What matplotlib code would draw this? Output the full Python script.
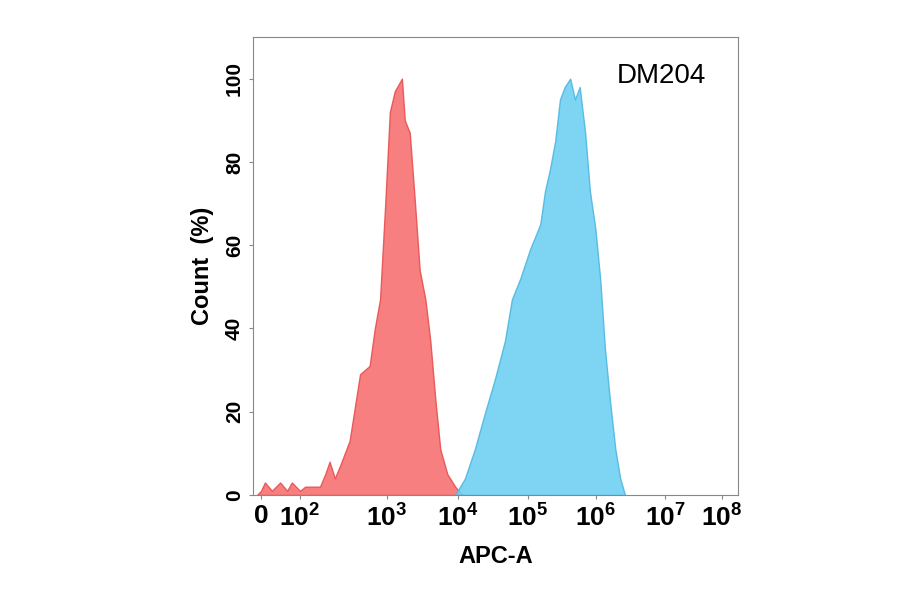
import numpy as np
import matplotlib
matplotlib.use("Agg")
import matplotlib.pyplot as plt
plt.rcParams['font.family'] = ['Liberation Sans', 'DejaVu Sans']
plt.rcParams['mathtext.fontset'] = 'custom'
plt.rcParams['mathtext.bf'] = 'Liberation Sans:bold'

# x values in log10 units (1 == "0" position on biexponential axis)
red_x = [0.9,1.0,1.10,1.28,1.49,1.67,1.79,2.0,2.06,2.23,2.29,2.34,2.40,2.46,2.57,2.69,2.80,2.86,2.92,2.98,3.04,3.11,3.21,3.25,3.32,3.39,3.46,3.54,3.61,3.68,3.75,3.85,3.96,4.06]
red_y = [0,1,3,1,3,1,3,1,2,2,5,8,4,7,13,29,31,40,47,70,92,97,100,90,87,71,54,47,37,23,11,5,2,0]
blue_x = [3.96,4.10,4.24,4.39,4.53,4.67,4.77,4.89,5.03,5.18,5.25,5.32,5.40,5.47,5.54,5.62,5.69,5.76,5.84,5.91,5.99,6.06,6.13,6.20,6.28,6.35,6.42]
blue_y = [0,4,11,20,28,37,47,52,59,65,73,78,85,95,98,100,95,98,87,73,64,52,35,23,11,4,0]
tick_vals = [1,2,3,4,5,6,7,8]
tick_labels = ["0", r"$\mathbf{10^2}$", r"$\mathbf{10^3}$", r"$\mathbf{10^4}$", r"$\mathbf{10^5}$", r"$\mathbf{10^6}$", r"$\mathbf{10^7}$", r"$\mathbf{10^8}$"]

_lv = np.array([0.8,1,2,3,4,5,6,7,8,8.3])
_px = np.array([253,261,300,387,458,528,596,665,722,738], float)
fwd = lambda v: np.interp(v, _lv, _px)
inv = lambda p: np.interp(p, _px, _lv)

fig = plt.figure(figsize=(9, 5.94), dpi=100)
ax = fig.add_axes([253/900, 1-495/594, (738-253)/900, (495-37)/594])
ax.set_xscale('function', functions=(fwd, inv))
ax.fill_between(red_x, red_y, color='#f87171', alpha=0.9, lw=1, edgecolor='#e85050')
ax.fill_between(blue_x, blue_y, color='#6fd0f2', alpha=0.9, lw=1, edgecolor='#4fb8e0')
ax.set_xlim(0.8, 8.3)
ax.set_ylim(0, 110)
ax.set_xticks(tick_vals)
ax.set_xticklabels(tick_labels, fontsize=19, fontweight='bold')
ax.set_yticks([0,20,40,60,80,100])
ax.set_yticklabels(['0','20','40','60','80','100'], fontsize=15, fontweight='bold', rotation=90, va='center')
for s in ax.spines.values():
    s.set_color('#888888')
ax.tick_params(colors='#888888', labelcolor='black', length=3)
ax.set_ylabel('Count  (%)', fontsize=17, fontweight='bold', labelpad=8)
ax.set_xlabel('APC-A', fontsize=17, fontweight='bold', labelpad=10)
ax.text(0.935, 0.915, 'DM204', transform=ax.transAxes, fontsize=20, ha='right', va='center')
fig.savefig('out.png')
